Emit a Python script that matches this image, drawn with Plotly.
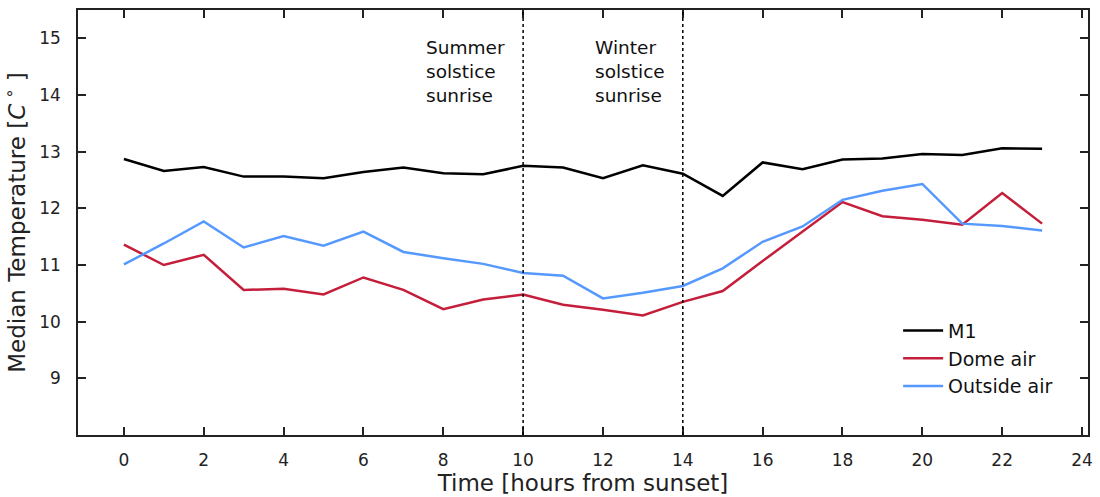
import plotly.graph_objects as go

# Hours after sunset
hours = list(range(24))

# Median temperatures (deg C) per hour
m1 = [12.87, 12.66, 12.73, 12.56, 12.56, 12.53, 12.64, 12.72, 12.62, 12.60,
      12.75, 12.72, 12.53, 12.76, 12.61, 12.22, 12.81, 12.69, 12.86, 12.88,
      12.96, 12.94, 13.06, 13.05]
dome_air = [11.36, 11.00, 11.18, 10.56, 10.58, 10.48, 10.78, 10.56, 10.22, 10.39,
            10.48, 10.30, 10.21, 10.11, 10.35, 10.54, 11.07, 11.59, 12.11, 11.86,
            11.80, 11.71, 12.27, 11.73]
outside_air = [11.01, 11.38, 11.77, 11.31, 11.51, 11.34, 11.59, 11.23, 11.12, 11.02,
               10.86, 10.81, 10.41, 10.51, 10.63, 10.94, 11.41, 11.68, 12.15, 12.31,
               12.43, 11.73, 11.69, 11.61]

series_names = ["M1", "Dome air", "Outside air"]
series_colors = ["#000000", "#c41e3a", "#5599ff"]

# Sunrise markers (hours after sunset)
sunrise_hours = [10, 14]
sunrise_labels = ["Summer<br>solstice<br>sunrise", "Winter<br>solstice<br>sunrise"]

x_ticks = list(range(0, 25, 2))
y_ticks = list(range(9, 16))

FONT = "DejaVu Sans"

fig = go.Figure()
for name, vals, col in zip(series_names, [m1, dome_air, outside_air], series_colors):
    fig.add_trace(go.Scatter(x=hours, y=vals, mode="lines", name=name,
                             line=dict(color=col, width=2.5)))

for h, txt in zip(sunrise_hours, sunrise_labels):
    fig.add_shape(type="line", x0=h, x1=h, y0=0, y1=1, xref="x", yref="paper",
                  line=dict(color="#000000", width=1.5, dash="dot"))
    fig.add_annotation(x=h, y=15.06, xref="x", yref="y", text=txt,
                       showarrow=False, xanchor="right", yanchor="top",
                       xshift=-16, align="left",
                       font=dict(family=FONT, size=18.5, color="#111111"))

axis_common = dict(
    showline=True, linecolor="#222222", linewidth=1.5, mirror="ticks",
    ticks="inside", ticklen=8, tickwidth=1.5, tickcolor="#222222",
    showgrid=False, zeroline=False,
    tickfont=dict(family=FONT, size=17, color="#222222"),
)

fig.update_xaxes(range=[-1.15, 24.15], tickvals=x_ticks,
                 title=dict(text="Time [hours from sunset]", standoff=4,
                            font=dict(family=FONT, size=23, color="#222222")),
                 ticklabelstandoff=9, **axis_common)
fig.update_yaxes(range=[8, 15.5], tickvals=y_ticks,
                 title=dict(text="Median Temperature [<i>C</i><sup> ∘</sup> ]", standoff=8,
                            font=dict(family=FONT, size=23, color="#222222")),
                 ticklabelstandoff=12, **axis_common)

fig.update_layout(
    width=1100, height=497,
    margin=dict(l=78, r=7, t=10, b=62),
    paper_bgcolor="white", plot_bgcolor="white",
    showlegend=True,
    legend=dict(x=0.812, y=0.29, xanchor="left", yanchor="top",
                bgcolor="rgba(0,0,0,0)", borderwidth=0,
                font=dict(family=FONT, size=19, color="#111111"),
                itemwidth=40),
)

fig.write_html("out.html")
